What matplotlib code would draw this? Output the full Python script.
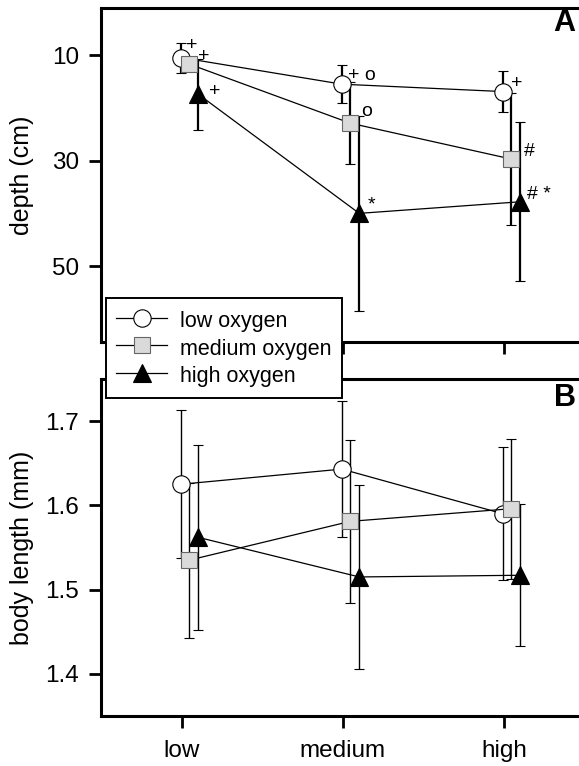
import numpy as np
import matplotlib
matplotlib.use("Agg")
from matplotlib import pyplot as plt
from matplotlib.lines import Line2D

plt.rcParams['font.family'] = ['Liberation Sans', 'DejaVu Sans']

#データ
categories = ["low", "medium", "high"]
series = ["low oxygen", "medium oxygen", "high oxygen"]

#A: depth (cm)
depth_low = [10.45, 15.5, 16.9]
depth_low_err = [2.85, 3.6, 3.9]
depth_med = [11.7, 22.9, 29.7]
depth_med_err = [0.5, 7.8, 12.6]
depth_high = [17.4, 40.0, 37.8]
depth_high_err = [6.7, 18.5, 15.1]

#B: body length (mm)
len_low = [1.625, 1.643, 1.590]
len_low_err = [0.088, 0.081, 0.079]
len_med = [1.535, 1.581, 1.596]
len_med_err = [0.092, 0.097, 0.083]
len_high = [1.562, 1.515, 1.517]
len_high_err = [0.110, 0.109, 0.084]

#有意差の記号 (series, category, text)
marks_A = [(0, 0, "+"), (1, 0, "+"), (2, 0, "+"),
           (0, 1, "+ o"), (1, 1, "o"), (2, 1, "*"),
           (0, 2, "+"), (1, 2, "#"), (2, 2, "# *")]

#スタイル
offsets = [-0.006, 0.047, 0.102]
styles = [dict(marker='o', ms=12.5, mfc='white', mec='black', mew=0.8),
          dict(marker='s', ms=11.5, mfc='#dadada', mec='#666666', mew=0.8),
          dict(marker='^', ms=13.5, mfc='black', mec='black', mew=0.8)]
# 記号の位置 (points)
mark_off = {(0, 0): (7.7, 8.9), (1, 0): (10.4, 5.5), (2, 0): (12.0, 1.7),
            (0, 1): (14.5, 6.3), (1, 1): (11.8, 8.4), (2, 1): (8.9, 6.3),
            (0, 2): (10.3, 6.0), (1, 2): (13.2, 5.3), (2, 2): (13.5, 5.3)}

fig = plt.figure(figsize=(5.79, 7.66), dpi=100)
axA = fig.add_axes([0.175, 0.5535, 0.8342, 0.4364])
axB = fig.add_axes([0.175, 0.0653, 0.8342, 0.4400])

x = np.arange(1, len(categories) + 1)

def draw_panel(ax, vals, errs, elw):
    for i, (v, e) in enumerate(zip(vals, errs)):
        ax.errorbar(x + offsets[i], v, yerr=e, color='black', lw=0.9,
                    elinewidth=elw, capsize=3.5, capthick=elw, **styles[i])

draw_panel(axA, [depth_low, depth_med, depth_high],
           [depth_low_err, depth_med_err, depth_high_err], 1.6)
draw_panel(axB, [len_low, len_med, len_high],
           [len_low_err, len_med_err, len_high_err], 1.0)

vals_A = [depth_low, depth_med, depth_high]
for s, c, t in marks_A:
    axA.annotate(t, (x[c] + offsets[s], vals_A[s][c]), xytext=mark_off[(s, c)],
                 textcoords='offset points', ha='center', va='center', fontsize=14)

axA.set_ylim(64.4, 1.0)
axA.set_yticks([10, 30, 50])
axA.set_ylabel("depth (cm)", fontsize=18)
axB.set_ylim(1.35, 1.75)
axB.set_yticks([1.4, 1.5, 1.6, 1.7])
axB.set_ylabel("body length (mm)", fontsize=18)

for ax in (axA, axB):
    ax.set_xlim(0.5, 3.5)
    ax.set_xticks(x)
    for sp in ax.spines.values():
        sp.set_linewidth(2.2)
    ax.tick_params(direction='out', length=8.5, width=2.0, labelsize=17.5)
    ax.tick_params(axis='y', pad=7.5)
    ax.tick_params(axis='x', pad=9)
    ax.yaxis.set_label_coords(-0.14, 0.5)
axA.set_xticklabels([])
axB.set_xticklabels(categories)

fig.text(0.9753, 0.9696, "A", fontsize=22, fontweight='bold', ha='center', va='center')
fig.text(0.9753, 0.4800, "B", fontsize=22, fontweight='bold', ha='center', va='center')

handles = [Line2D([], [], color='black', lw=0.9, **st) for st in styles]
leg = fig.legend(handles, series, loc='upper left', bbox_to_anchor=(106 / 579, 1 - 298 / 766),
                 fontsize=15.5, frameon=True, fancybox=False, edgecolor='black',
                 borderaxespad=0, borderpad=0.48, handlelength=2.37, handletextpad=0.6,
                 handleheight=1.29, labelspacing=0.17, framealpha=1)
leg.get_frame().set_linewidth(1.4)

plt.savefig("out.png", dpi=100)
